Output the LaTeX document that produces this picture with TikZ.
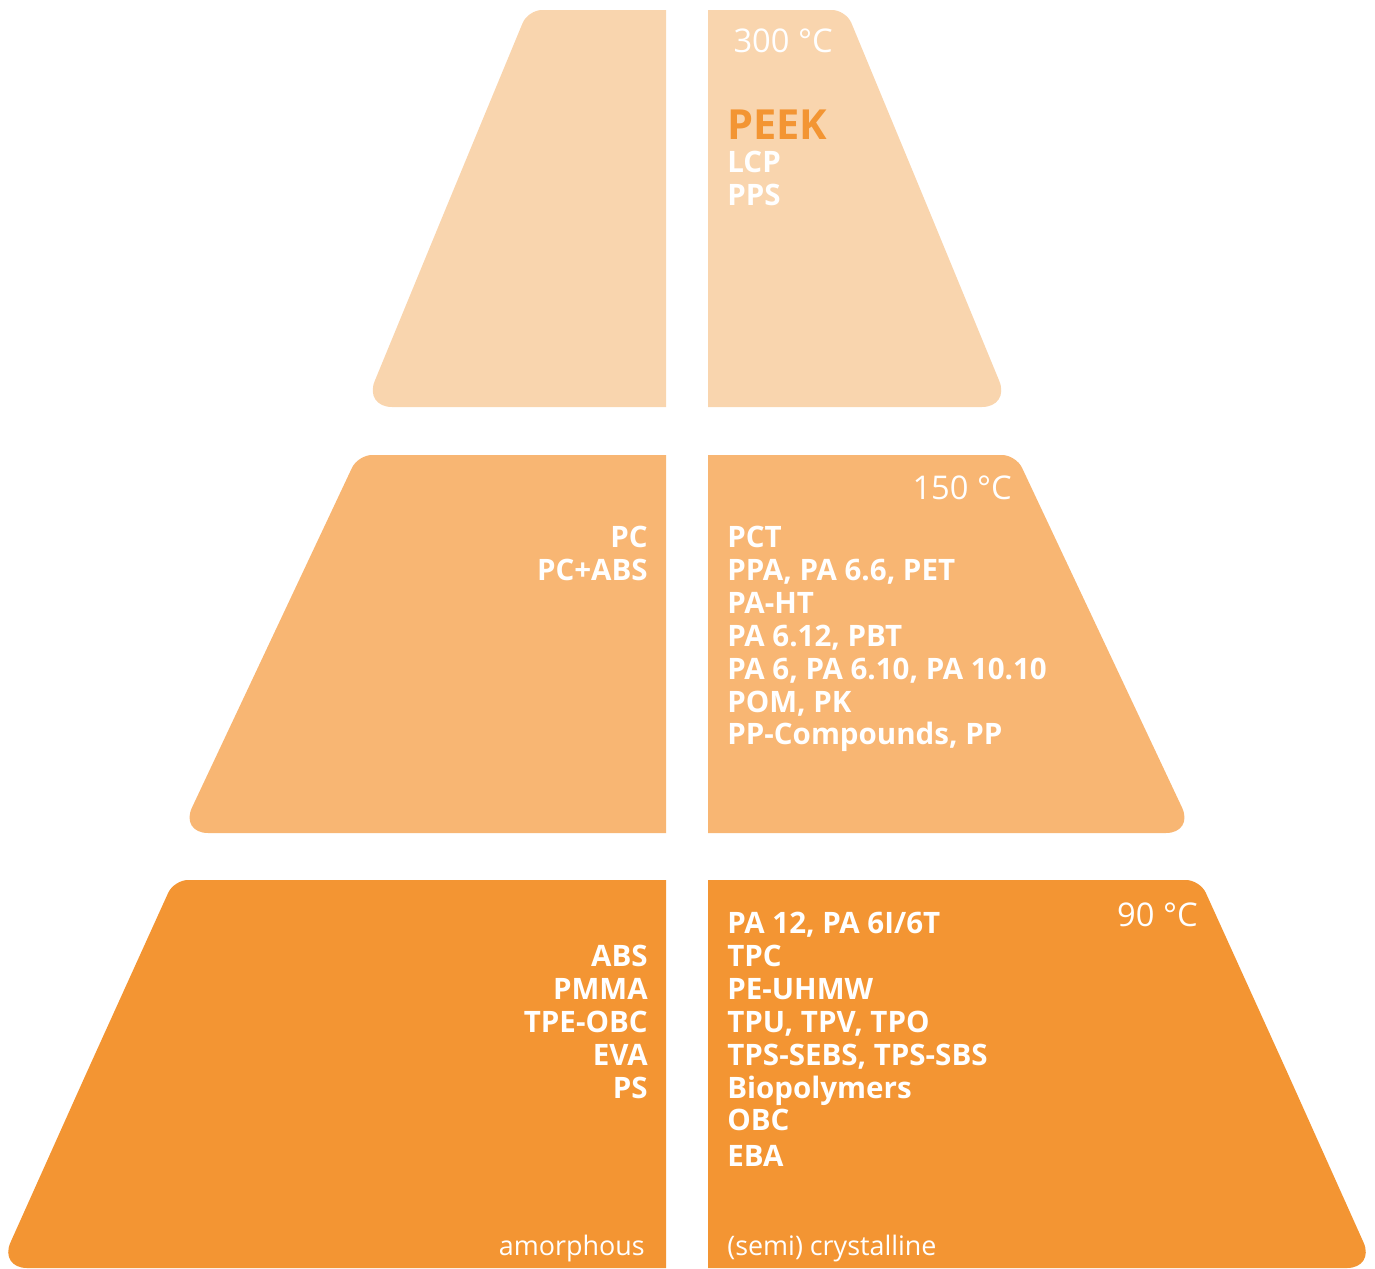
\documentclass[tikz,border=0pt]{standalone}
\usepackage{fontspec}
\setmainfont{Open Sans}
\usepackage{xcolor}
\usepackage{tikz}
\usetikzlibrary{positioning}

\definecolor{tiertop}{HTML}{F9D5AE}
\definecolor{tiermid}{HTML}{F8B673}
\definecolor{tierlow}{HTML}{F39533}

\begin{document}
\begin{tikzpicture}[x=0.02cm,y=-0.02cm,
    polymer/.style={text=white,inner sep=0pt,font=\bfseries\fontsize{16.8}{18.7}\selectfont},
    temp/.style={text=white,inner sep=0pt,font=\fontsize{18.6}{22}\selectfont},
    kind/.style={text=white,inner sep=0pt,font=\fontsize{15.3}{18}\selectfont}]
    \useasboundingbox (0,0) rectangle (1375,1268);

    % 300 C tier
    \fill[tiertop] (666,208) -- (666,407) -- (500,407) [rounded corners=16pt] -- (364,407) -- (446,208) [rounded corners=8pt] -- (528,10) -- (600,10) [sharp corners] -- (666,10) -- cycle;
    \fill[tiertop] (708,208) -- (708,10) -- (780,10) [rounded corners=8pt] -- (846,10) -- (928,208) [rounded corners=16pt] -- (1010,407) -- (860,407) [sharp corners] -- (708,407) -- cycle;

    % 150 C tier
    \fill[tiermid] (666,644) -- (666,833) -- (420,833) [rounded corners=16pt] -- (180,833) -- (269,644) [rounded corners=8pt] -- (358,455) -- (500,455) [sharp corners] -- (666,455) -- cycle;
    \fill[tiermid] (708,644) -- (708,455) -- (860,455) [rounded corners=8pt] -- (1016,455) -- (1105,644) [rounded corners=16pt] -- (1194,833) -- (950,833) [sharp corners] -- (708,833) -- cycle;

    % 90 C tier
    \fill[tierlow] (666,1074) -- (666,1268) -- (330,1268) [rounded corners=16pt] -- (-1,1268) -- (86,1074) [rounded corners=8pt] -- (174,880) -- (420,880) [sharp corners] -- (666,880) -- cycle;
    \fill[tierlow] (708,1074) -- (708,880) -- (950,880) [rounded corners=8pt] -- (1200,880) -- (1288,1074) [rounded corners=16pt] -- (1375,1268) -- (1040,1268) [sharp corners] -- (708,1268) -- cycle;

    % temperatures
    \node[temp,anchor=north east] (t300) at (833,28) {300 °C};
    \node[temp,anchor=north east] (t150) at (1012,475) {150 °C};
    \node[temp,anchor=north east] (t90) at (1198,902) {90 °C};

    % high temperature
    \node[inner sep=0pt,anchor=north west,text=tierlow,font=\bfseries\fontsize{23.6}{28}\selectfont] (peek) at (727,110) {PEEK};
    \node[polymer,anchor=north west,align=left] (highCryst) at (727,151) {LCP\\PPS};

    % medium temperature
    \node[polymer,anchor=north east,align=right] (midAmorph) at (648,526) {PC\\PC+ABS};
    \node[polymer,anchor=north west,align=left] (midCryst) at (727,526)
        {PCT\\PPA, PA 6.6, PET\\PA-HT\\PA 6.12, PBT\\PA 6, PA 6.10, PA 10.10\\POM, PK\\PP-Compounds, PP};

    % low temperature
    \node[polymer,anchor=north east,align=right] (lowAmorph) at (648,945) {ABS\\PMMA\\TPE-OBC\\EVA\\PS};
    \node[polymer,anchor=north west,align=left] (lowCryst) at (727,912)
        {PA 12, PA 6I/6T\\TPC\\PE-UHMW\\TPU, TPV, TPO\\TPS-SEBS, TPS-SBS\\Biopolymers\\OBC\\[1.7pt]EBA};

    \node[kind,anchor=base east] (amorph) at (645,1255) {amorphous};
    \node[kind,anchor=base west] (cryst) at (727,1255) {(semi) crystalline};
\end{tikzpicture}
\end{document}
